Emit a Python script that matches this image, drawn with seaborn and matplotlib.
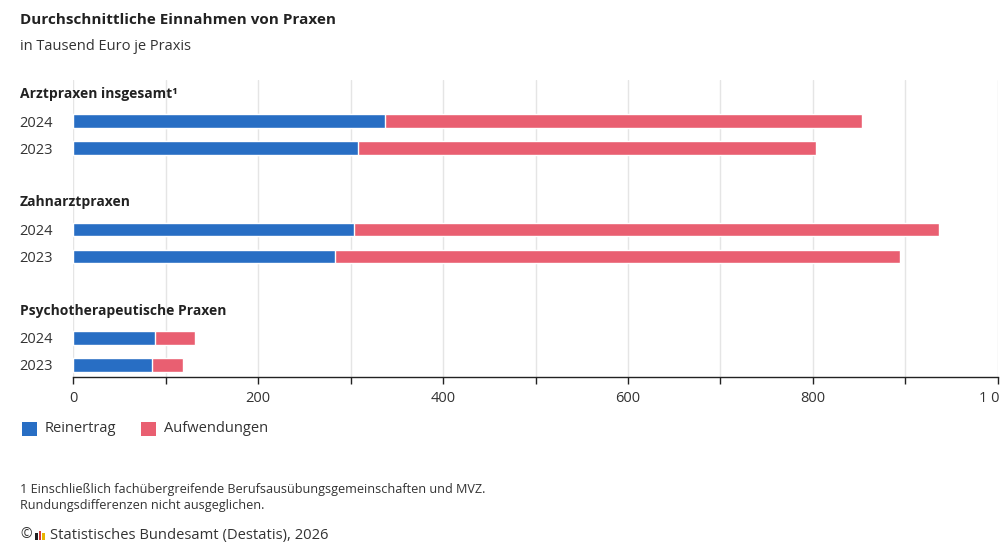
import matplotlib
matplotlib.use("Agg")
import matplotlib.pyplot as plt
import matplotlib.transforms as mtransforms
from matplotlib.patches import Rectangle
import seaborn as sns
import pandas as pd

# Werte in Tausend Euro je Praxis
gruppen = ["Arztpraxen insgesamt¹", "Zahnarztpraxen", "Psychotherapeutische Praxen"]
jahre = ["2024", "2023"]
reinertrag = [337, 308, 304, 283, 88, 85]
aufwendungen = [516, 495, 632, 611, 44, 34]
x_ticks = [0, 100, 200, 300, 400, 500, 600, 700, 800, 900, 1000]
x_labels = ["0", "", "200", "", "400", "", "600", "", "800", "", "1 000"]

BLAU = "#286ec4"
ROT = "#e95f71"
TEXT = "#333333"

sns.set_style("white")
plt.rcParams["font.family"] = ["Open Sans", "DejaVu Sans"]

# Zeilen: Kopfzeile je Gruppe, dann 2024 / 2023, dann eine Leerzeile
rows = []
for g, name in enumerate(gruppen):
    for j, jahr in enumerate(jahre):
        i = g * len(jahre) + j
        rows.append({
            "gruppe": name,
            "jahr": jahr,
            "pos": 4 * g + 1 + j,
            "reinertrag": reinertrag[i],
            "gesamt": reinertrag[i] + aufwendungen[i],
        })
df = pd.DataFrame(rows)

fig = plt.figure(figsize=(10, 5.49), dpi=100)
ax = fig.add_axes([0.0733, 1 - 377 / 549, 0.9977 - 0.0733, (377 - 80) / 549])

sns.barplot(data=df, x="gesamt", y="pos", orient="h", native_scale=True,
            width=0.5, color=ROT, saturation=1, errorbar=None, ax=ax, zorder=2)
sns.barplot(data=df, x="reinertrag", y="pos", orient="h", native_scale=True,
            width=0.5, color=BLAU, saturation=1, errorbar=None, ax=ax, zorder=3)

ax.set_xlim(0, 1000)
ax.set_ylim(10.45, -0.52)
ax.set_xticks(x_ticks, labels=x_labels)
ax.set_yticks(df["pos"], labels=df["jahr"])
ax.set_xlabel("")
ax.set_ylabel("")
ax.grid(axis="x", color="#e5e5e5", linewidth=1, zorder=0)
ax.grid(axis="y", visible=False)
for side in ["top", "right", "left"]:
    ax.spines[side].set_visible(False)
ax.spines["bottom"].set_color("#222222")
ax.spines["bottom"].set_linewidth(1)
ax.tick_params(axis="x", length=5, width=1, color="#222222", labelsize=10.5,
               labelcolor=TEXT, pad=5, bottom=True)
ax.tick_params(axis="y", length=0, labelsize=10.5, labelcolor=TEXT, pad=14.5)
for lbl in ax.get_xticklabels():
    lbl.set_clip_on(False)

# Gruppenüberschriften
trans = mtransforms.blended_transform_factory(fig.transFigure, ax.transData)
for g, name in enumerate(gruppen):
    ax.text(0.02, 4 * g, name, transform=trans, ha="left", va="center",
            fontsize=10, fontweight="bold", color="#222222")

# Titel und Untertitel
fig.text(0.02, 1 - 20.5 / 549, "Durchschnittliche Einnahmen von Praxen", ha="left",
         va="center", fontsize=11, fontweight="bold", color="#222222")
fig.text(0.02, 1 - 46 / 549, "in Tausend Euro je Praxis", ha="left", va="center",
         fontsize=10.5, color=TEXT)

# Legende
for x0, col, label in [(22, BLAU, "Reinertrag"), (141, ROT, "Aufwendungen")]:
    fig.add_artist(Rectangle((x0 / 1000, 1 - 436 / 549), 14.5 / 1000, 14.5 / 549,
                             transform=fig.transFigure, color=col, lw=0))
    fig.text((x0 + 23) / 1000, 1 - 429 / 549, label, ha="left", va="center",
             fontsize=10.5, color=TEXT)

# Fußnoten und Quelle
fig.text(0.02, 1 - 490 / 549,
         "1 Einschließlich fachübergreifende Berufsausübungsgemeinschaften und MVZ.",
         ha="left", va="center", fontsize=9.1, color=TEXT)
fig.text(0.02, 1 - 505 / 549, "Rundungsdifferenzen nicht ausgeglichen.",
         ha="left", va="center", fontsize=9.1, color=TEXT)
fig.text(0.02, 1 - 535 / 549, "©", ha="left", va="center", fontsize=10, color=TEXT)
for dx, col, h in [(0, "#222222", 7), (3.5, "#d43a3a", 9), (7, "#e8b400", 7)]:
    fig.add_artist(Rectangle(((35 + dx) / 1000, 1 - 540 / 549), 2.5 / 1000, h / 549,
                             transform=fig.transFigure, color=col, lw=0))
fig.text(0.05, 1 - 535 / 549, "Statistisches Bundesamt (Destatis), 2026", ha="left",
         va="center", fontsize=10.6, color=TEXT)

fig.savefig("out.png", dpi=100, facecolor="white")
